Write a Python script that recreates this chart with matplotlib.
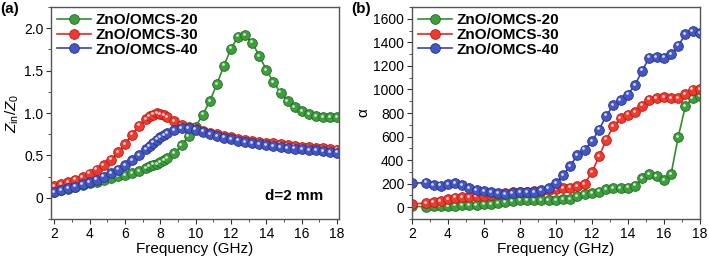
import matplotlib
matplotlib.use("Agg")
import matplotlib.pyplot as plt
from matplotlib.ticker import MultipleLocator
from matplotlib.transforms import ScaledTranslation

plt.rcParams['font.family'] = ['Liberation Sans', 'DejaVu Sans']
plt.rcParams['mathtext.fontset'] = 'custom'
plt.rcParams['mathtext.rm'] = 'Liberation Sans'
plt.rcParams['mathtext.it'] = 'Liberation Sans:italic'

# (a) normalized input impedance, d = 2 mm
freq_a = [2.0, 2.4, 2.8, 3.2, 3.6, 4.0, 4.4, 4.8, 5.2, 5.6, 6.0, 6.4, 6.8, 7.2,
          7.4, 7.6, 7.8, 8.0, 8.2, 8.4, 8.8, 9.2, 9.6, 10.0, 10.4, 10.8, 11.2,
          11.6, 12.0, 12.4, 12.8, 13.2, 13.6, 14.0, 14.4, 14.8, 15.2, 15.6,
          16.0, 16.4, 16.8, 17.2, 17.6, 18.0]
zin_20 = [0.067, 0.086, 0.106, 0.13, 0.152, 0.17, 0.19, 0.212, 0.23, 0.252, 0.27,
          0.29, 0.315, 0.35, 0.37, 0.39, 0.40, 0.42, 0.44, 0.47, 0.525, 0.62,
          0.73, 0.84, 0.98, 1.14, 1.34, 1.56, 1.76, 1.90, 1.915, 1.83, 1.67,
          1.51, 1.36, 1.24, 1.14, 1.07, 1.02, 0.985, 0.96, 0.948, 0.95, 0.955]
zin_30 = [0.135, 0.157, 0.184, 0.215, 0.247, 0.285, 0.332, 0.385, 0.45, 0.535,
          0.635, 0.745, 0.85, 0.93, 0.96, 0.98, 0.995, 0.99, 0.975, 0.955, 0.9,
          0.855, 0.83, 0.81, 0.79, 0.768, 0.748, 0.73, 0.712, 0.697, 0.683,
          0.672, 0.662, 0.652, 0.642, 0.632, 0.622, 0.613, 0.604, 0.597, 0.59,
          0.583, 0.576, 0.568]
zin_40 = [0.068, 0.09, 0.11, 0.133, 0.157, 0.184, 0.215, 0.25, 0.29, 0.333,
          0.385, 0.44, 0.50, 0.57, 0.61, 0.65, 0.685, 0.715, 0.74, 0.765, 0.80,
          0.82, 0.82, 0.805, 0.78, 0.755, 0.73, 0.71, 0.69, 0.675, 0.66, 0.645,
          0.632, 0.62, 0.61, 0.60, 0.59, 0.58, 0.572, 0.565, 0.558, 0.55, 0.54,
          0.532]

# (b) attenuation constant
freq_b = [2.0, 2.8, 3.2, 3.6, 4.0, 4.4, 4.8, 5.2, 5.6, 6.0, 6.4, 6.8, 7.2, 7.6,
          8.0, 8.4, 8.8, 9.2, 9.6, 10.0, 10.4, 10.8, 11.2, 11.6, 12.0, 12.4,
          12.8, 13.2, 13.6, 14.0, 14.4, 14.8, 15.2, 15.6, 16.0, 16.4, 16.8,
          17.2, 17.6, 18.0]
alpha_20 = [6, 5, 6, 6, 11, 14, 17, 17, 20, 23, 28, 34, 45, 51, 57, 57, 57, 62,
            62, 62, 68, 68, 91, 111, 119, 133, 153, 162, 162, 167, 184, 250,
            284, 267, 233, 278, 596, 857, 928, 942]
alpha_30 = [28, 34, 43, 54, 68, 82, 85, 85, 91, 96, 105, 111, 119, 125, 125, 130,
            136, 139, 148, 153, 162, 167, 176, 199, 295, 431, 573, 687, 757,
            786, 806, 862, 914, 928, 933, 928, 928, 962, 999, 1004]
alpha_40 = [204, 208, 190, 184, 199, 207, 190, 162, 148, 139, 128, 119, 113, 119,
            125, 125, 130, 142, 162, 204, 270, 352, 443, 488, 559, 658, 777, 868,
            908, 956, 1038, 1160, 1271, 1277, 1271, 1297, 1373, 1467, 1495, 1481]

labels = ['ZnO/OMCS-20', 'ZnO/OMCS-30', 'ZnO/OMCS-40']
line_colors = ['#2f8f2f', '#e8261f', '#3346b2']
face_colors = ['#3d9e3d', '#f03a30', '#4356c4']
edge_colors = ['#226b22', '#b81a14', '#26358c']

fig = plt.figure(figsize=(7.09, 2.61), dpi=100)
ax1 = fig.add_axes([0.072, 0.161, 0.406, 0.812])
ax2 = fig.add_axes([0.581, 0.161, 0.406, 0.812])


def draw(ax, x, series):
    shift = ax.transData + ScaledTranslation(-0.9 / 72, 0.9 / 72, fig.dpi_scale_trans)
    for y, lab, lc, fc, ec in zip(series, labels, line_colors, face_colors, edge_colors):
        ax.plot(x, y, '-o', color=lc, lw=1.2, ms=7, mfc=fc, mec=ec, mew=0.6,
                label=lab)
        ax.plot(x, y, 'o', ms=2.0, color='white', alpha=0.8, mew=0,
                transform=shift)


def style(ax):
    for s in ax.spines.values():
        s.set_color('#555555')
        s.set_linewidth(1.0)
    ax.tick_params(which='both', direction='out', top=False, right=False,
                   labelsize=10, colors='#333333', labelcolor='black', pad=2)
    ax.tick_params(which='major', length=3.5)
    ax.tick_params(which='minor', length=2)
    ax.xaxis.set_major_locator(MultipleLocator(2))
    ax.xaxis.set_minor_locator(MultipleLocator(1))
    ax.set_xlabel('Frequency (GHz)', fontsize=11, labelpad=1)
    ax.legend(loc='upper left', frameon=False,
              prop={'weight': 'bold', 'size': 11}, handlelength=2.2,
              handletextpad=0.3, labelspacing=0.05, borderaxespad=0.2,
              borderpad=0.2)


draw(ax1, freq_a, [zin_20, zin_30, zin_40])
ax1.set_xlim(1.82, 18.1)
ax1.set_ylim(-0.25, 2.25)
ax1.yaxis.set_major_locator(MultipleLocator(0.5))
ax1.yaxis.set_minor_locator(MultipleLocator(0.25))
style(ax1)
ax1.set_yticks([0, 0.5, 1.0, 1.5, 2.0])
ax1.set_yticklabels(['0', '0.5', '1.0', '1.5', '2.0'])
ax1.set_ylabel(r'$Z_{\mathrm{in}}/Z_0$', fontsize=11, labelpad=2)
ax1.text(0.745, 0.11, 'd=2 mm', transform=ax1.transAxes, fontsize=11,
         fontweight='bold', ha='left', va='center')

draw(ax2, freq_b, [alpha_20, alpha_30, alpha_40])
ax2.set_xlim(2, 18)
ax2.set_ylim(-100, 1700)
ax2.yaxis.set_major_locator(MultipleLocator(200))
ax2.yaxis.set_minor_locator(MultipleLocator(100))
style(ax2)
ax2.set_ylabel('α', fontsize=11, labelpad=2)

fig.text(0.001, 0.965, '(a)', fontsize=11, fontweight='bold', ha='left', va='center')
fig.text(0.495, 0.965, '(b)', fontsize=11, fontweight='bold', ha='left', va='center')

fig.savefig('out.png', dpi=100)
